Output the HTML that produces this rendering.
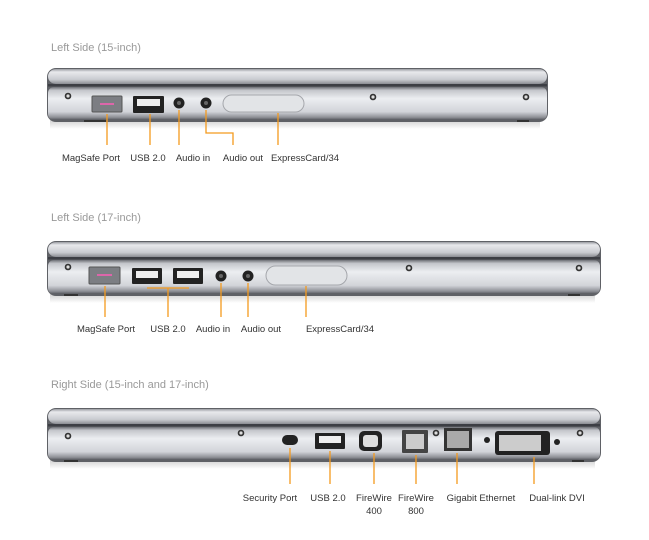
<!DOCTYPE html>
<html><head><style>
body{margin:0;background:#fff;}
svg{display:block;font-family:"Liberation Sans",sans-serif;}
.h{fill:#999;font-size:11px;}
.l{fill:#333;font-size:9.5px;text-anchor:middle;}
.o{stroke:#f39a1e;stroke-width:1.3;fill:none;}
</style></head><body>
<svg width="649" height="540" viewBox="0 0 649 540">
<defs>
<linearGradient id="lid" x1="0" y1="0" x2="0" y2="1">
<stop offset="0" stop-color="#9a9ca2"/><stop offset="0.2" stop-color="#e8e9ec"/><stop offset="0.7" stop-color="#c9cbd0"/><stop offset="1" stop-color="#8a8c92"/></linearGradient>
<linearGradient id="base" x1="0" y1="0" x2="0" y2="1">
<stop offset="0" stop-color="#6d6f75"/><stop offset="0.1" stop-color="#c4c6cb"/><stop offset="0.35" stop-color="#eceef1"/><stop offset="0.75" stop-color="#d2d4d9"/><stop offset="0.92" stop-color="#8d8f95"/><stop offset="1" stop-color="#56585d"/></linearGradient>
<linearGradient id="sh" x1="0" y1="0" x2="0" y2="1"><stop offset="0" stop-color="#ccc"/><stop offset="1" stop-color="#fff"/></linearGradient>
<g id="screw"><circle r="3.3" fill="#333"/><circle r="1.6" fill="#ddd"/></g>
</defs>

<text class="h" x="51" y="51">Left Side (15-inch)</text>
<text class="h" x="51" y="221">Left Side (17-inch)</text>
<text class="h" x="51" y="388">Right Side (15-inch and 17-inch)</text>

<!-- Panel 1 -->
<rect x="50" y="119" width="490" height="10" fill="url(#sh)"/>
<rect x="47" y="68" width="501" height="54" rx="9" fill="#5f6166"/>
<rect x="48" y="69" width="499" height="15" rx="8" fill="url(#lid)"/>
<rect x="48" y="84" width="499" height="2.5" fill="#3c3e44"/>
<rect x="48" y="87" width="499" height="33" rx="6" fill="url(#base)"/>
<rect x="84" y="120" width="22" height="2" fill="#333"/><rect x="517" y="120" width="12" height="2" fill="#333"/>
<use href="#screw" x="68" y="96"/><use href="#screw" x="373" y="97"/><use href="#screw" x="526" y="97"/>
<rect x="92" y="96" width="30" height="16" rx="1" fill="#7c7e83" stroke="#555"/><rect x="100" y="103" width="14" height="2" fill="#d6a"/>
<rect x="133" y="96" width="31" height="17" rx="1" fill="#222"/><rect x="137" y="99" width="23" height="7" fill="#eee"/>
<circle cx="179" cy="103" r="5.5" fill="#222"/><circle cx="179" cy="103" r="2" fill="#666"/>
<circle cx="206" cy="103" r="5.5" fill="#222"/><circle cx="206" cy="103" r="2" fill="#666"/>
<rect x="223" y="95" width="81" height="17" rx="8.5" fill="#e2e4e7" stroke="#a5a7ac"/>
<path class="o" d="M107 114V145M150 114V145M179 110V145M206 110V133H233V145M278 113V145"/>
<text class="l" x="91" y="161">MagSafe Port</text><text class="l" x="148" y="161">USB 2.0</text>
<text class="l" x="193" y="161">Audio in</text><text class="l" x="243" y="161">Audio out</text>
<text class="l" x="305" y="161">ExpressCard/34</text>

<!-- Panel 2 -->
<rect x="50" y="293" width="545" height="10" fill="url(#sh)"/>
<rect x="47" y="241" width="554" height="55" rx="9" fill="#5f6166"/>
<rect x="48" y="242" width="552" height="15" rx="8" fill="url(#lid)"/>
<rect x="48" y="257" width="552" height="2.5" fill="#3c3e44"/>
<rect x="48" y="260" width="552" height="34" rx="6" fill="url(#base)"/>
<rect x="64" y="294" width="14" height="2" fill="#333"/><rect x="568" y="294" width="12" height="2" fill="#333"/>
<use href="#screw" x="68" y="267"/><use href="#screw" x="409" y="268"/><use href="#screw" x="579" y="268"/>
<rect x="89" y="267" width="31" height="17" rx="1" fill="#7c7e83" stroke="#555"/><rect x="97" y="274" width="15" height="2" fill="#d6a"/>
<rect x="132" y="268" width="30" height="16" rx="1" fill="#222"/><rect x="136" y="271" width="22" height="7" fill="#eee"/>
<rect x="173" y="268" width="30" height="16" rx="1" fill="#222"/><rect x="177" y="271" width="22" height="7" fill="#eee"/>
<circle cx="221" cy="276" r="5.5" fill="#222"/><circle cx="221" cy="276" r="2" fill="#666"/>
<circle cx="248" cy="276" r="5.5" fill="#222"/><circle cx="248" cy="276" r="2" fill="#666"/>
<rect x="266" y="266" width="81" height="19" rx="9.5" fill="#e2e4e7" stroke="#a5a7ac"/>
<path class="o" d="M105 286V317M147 288H189M168 288V317M221 283V317M248 283V317M306 286V317"/>
<text class="l" x="106" y="332">MagSafe Port</text><text class="l" x="168" y="332">USB 2.0</text>
<text class="l" x="213" y="332">Audio in</text><text class="l" x="261" y="332">Audio out</text>
<text class="l" x="340" y="332">ExpressCard/34</text>

<!-- Panel 3 -->
<rect x="50" y="459" width="545" height="10" fill="url(#sh)"/>
<rect x="47" y="408" width="554" height="54" rx="9" fill="#5f6166"/>
<rect x="48" y="409" width="552" height="15" rx="8" fill="url(#lid)"/>
<rect x="48" y="424" width="552" height="2.5" fill="#3c3e44"/>
<rect x="48" y="427" width="552" height="33" rx="6" fill="url(#base)"/>
<rect x="64" y="460" width="14" height="2" fill="#333"/><rect x="572" y="460" width="12" height="2" fill="#333"/>
<use href="#screw" x="68" y="436"/><use href="#screw" x="241" y="433"/><use href="#screw" x="436" y="433"/><use href="#screw" x="580" y="433"/>
<rect x="282" y="435" width="16" height="10" rx="5" fill="#222"/>
<rect x="315" y="433" width="30" height="16" rx="1" fill="#222"/><rect x="319" y="436" width="22" height="7" fill="#eee"/>
<rect x="359" y="431" width="23" height="20" rx="5" fill="#222"/><rect x="363" y="435" width="15" height="12" rx="3" fill="#ddd"/>
<rect x="402" y="430" width="26" height="23" rx="1" fill="#444"/><rect x="406" y="434" width="18" height="15" fill="#ccc"/>
<rect x="444" y="428" width="28" height="23" fill="#333"/><rect x="447" y="431" width="22" height="17" fill="#aaa"/>
<circle cx="487" cy="440" r="3" fill="#222"/>
<rect x="495" y="431" width="55" height="24" rx="3" fill="#222"/><rect x="499" y="435" width="42" height="16" fill="#ccc"/>
<circle cx="557" cy="442" r="3" fill="#222"/>
<path class="o" d="M290 448V484M330 451V484M374 453V484M416 455V484M457 453V484M534 457V484"/>
<text class="l" x="270" y="501">Security Port</text><text class="l" x="328" y="501">USB 2.0</text>
<text class="l" x="374" y="501">FireWire</text><text class="l" x="374" y="514">400</text>
<text class="l" x="416" y="501">FireWire</text><text class="l" x="416" y="514">800</text>
<text class="l" x="481" y="501">Gigabit Ethernet</text><text class="l" x="557" y="501">Dual-link DVI</text>
</svg>
</body></html>
